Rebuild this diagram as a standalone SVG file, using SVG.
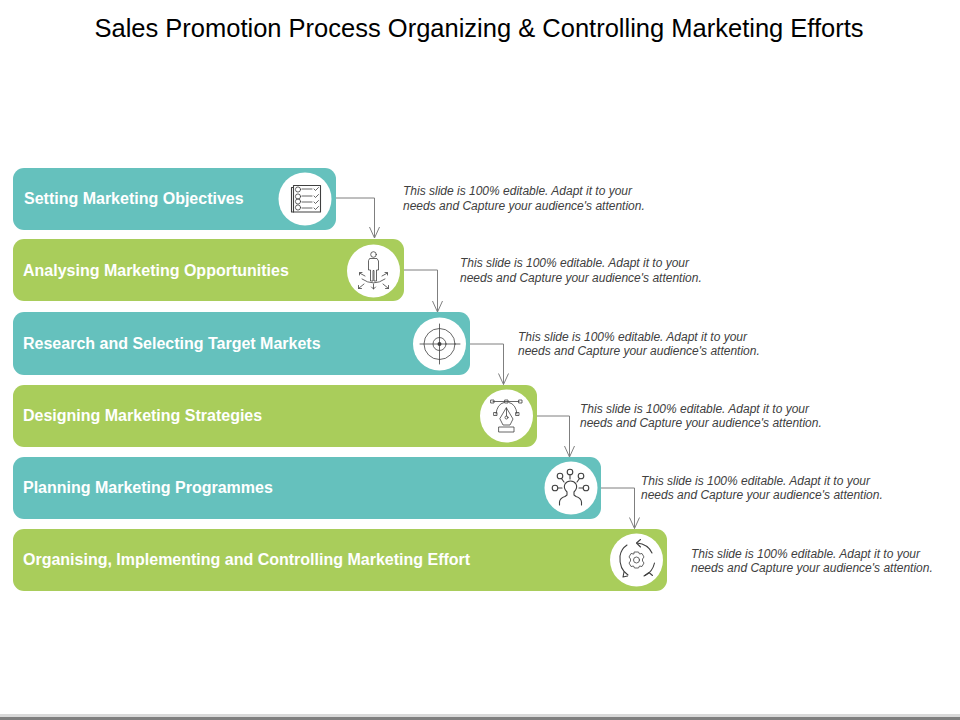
<svg xmlns="http://www.w3.org/2000/svg" width="960" height="720" viewBox="0 0 960 720">
<style>
text{font-family:"Liberation Sans",Arial,sans-serif}
.title{font-size:25.5px;fill:#000}
.lab{font-size:16px;font-weight:bold;fill:#fff}
.note{font-size:12px;font-style:italic;fill:#404040}
.teal{fill:#65c1bd}.green{fill:#a9cd5b}.disc{fill:#fff}
.ic{fill:none;stroke:#404040;stroke-width:1.1;stroke-linecap:round;stroke-linejoin:round}
.ict{fill:none;stroke:#404040;stroke-width:.8;stroke-linecap:round;stroke-linejoin:round}
.con{fill:none;stroke:#7f7f7f;stroke-width:1}
</style>
<defs><marker id="arr" viewBox="0 0 12 12" refX="6" refY="11.5" markerWidth="12" markerHeight="12" markerUnits="userSpaceOnUse" orient="auto-start-reverse"><path d="M1 1L6 11.5L11 1" transform="rotate(0)" fill="none" stroke="#7f7f7f" stroke-width="1"/></marker></defs>
<rect width="960" height="720" fill="#fff"/>
<rect y="714" width="960" height="3" fill="#d9d9d9"/><rect y="717" width="960" height="3" fill="#7f7f7f"/>
<text id="title" class="title" x="479" y="37" text-anchor="middle">Sales Promotion Process Organizing &amp; Controlling Marketing Efforts</text>

<g id="connectors">
<path class="con" d="M336 198H374.500V238"/>
<path class="con" d="M404 270H437.500V312"/>
<path class="con" d="M470 344H503.500V384.500"/>
<path class="con" d="M537 416H569.500V457"/>
<path class="con" d="M601 488H634.500V528.500"/>
<path class="con" d="M369.500 227L374.500 238L379.500 227M432.500 301L437.500 312L442.500 301M498.500 373.500L503.500 384.500L508.500 373.500M564.500 446L569.500 457L574.500 446M629.500 517.500L634.500 528.500L639.500 517.500"/>
</g>

<g id="node1">
<rect class="teal" x="13" y="168" width="323" height="62" rx="11"/>
<circle class="disc" cx="305" cy="199" r="26.500"/>
<text class="lab" x="24" y="204">Setting Marketing Objectives</text>
<g class="ic"><rect x="293.500" y="185.500" width="27" height="26.500"/><path d="M293.500 187.500H291.500V212H293.500"/></g>
<g class="ict"><circle cx="298" cy="189.500" r="2.600"/><circle cx="298" cy="196.500" r="2.600"/><circle cx="298" cy="201.500" r="2.600"/><circle cx="298" cy="207.500" r="2.600"/><path d="M302 189H312M302 196H312M302 202H312M302 208H312M314 189l1.500 1.500 3-3M314 196l1.500 1.500 3-3M314 202l1.500 1.500 3-3M314 208l1.500 1.500 3-3"/></g>
<text class="note"><tspan x="403" y="195">This slide is 100% editable. Adapt it to your</tspan><tspan x="403" y="210">needs and  Capture your audience's attention.</tspan></text>
</g>

<g id="node2">
<rect class="green" x="13" y="239" width="391" height="62" rx="11"/>
<circle class="disc" cx="373.500" cy="271" r="26.500"/>
<text class="lab" x="23" y="276">Analysing Marketing Opportunities</text>
<g class="ict"><circle cx="373.500" cy="254.500" r="2.800"/><path d="M370 258.500H377L378.500 261V270H376.500V281H374V270.500H373V281H370.500V270H368.500V261Z"/><path d="M362 279Q373.500 287 385 279M373.500 284V289M364 284L358.500 288.500M383 284L388.500 288.500M365 276L359.500 273M382 276L387.500 273M371.500 287l2 2 2-2M358.500 285.500V288.500H361.500M388.500 285.500V288.500H385.500M362 272.500H359.500V275M385 272.500H387.500V275"/></g>
<text class="note"><tspan x="460" y="267">This slide is 100% editable. Adapt it to your</tspan><tspan x="460" y="282">needs and  Capture your audience's attention.</tspan></text>
</g>

<g id="node3">
<rect class="teal" x="13" y="312" width="457" height="63" rx="11"/>
<circle class="disc" cx="439.500" cy="344" r="26.500"/>
<text class="lab" x="23" y="349">Research and Selecting Target Markets</text>
<g class="ict"><circle cx="439.500" cy="344" r="15.500"/><circle cx="439.500" cy="344" r="6.500"/><path d="M439.500 324V364M420 344H460"/></g>
<circle cx="439.500" cy="344" r="2" fill="#404040"/>
<text class="note"><tspan x="518" y="341">This slide is 100% editable. Adapt it to your</tspan><tspan x="518" y="355">needs and  Capture your audience's attention.</tspan></text>
</g>

<g id="node4">
<rect class="green" x="13" y="385" width="524" height="62" rx="11"/>
<circle class="disc" cx="506.500" cy="416" r="26.500"/>
<text class="lab" x="23" y="421">Designing Marketing Strategies</text>
<g class="ict"><path d="M493 401.500H519M496 414Q497 404 504 402.500M517 414Q516 404 509 402.500"/><rect x="491" y="400" width="3" height="3"/><rect x="505" y="400" width="3" height="3"/><rect x="519" y="400" width="3" height="3"/><rect x="494" y="412.500" width="3" height="3"/><rect x="516" y="412.500" width="3" height="3"/><path d="M506.500 408L513 419L510 425H503L500 419ZM506.500 408V416"/><circle cx="506.500" cy="417.500" r="1.500"/><rect x="499" y="427" width="15" height="5"/></g>
<text class="note"><tspan x="580" y="413">This slide is 100% editable. Adapt it to your</tspan><tspan x="580" y="427">needs and  Capture your audience's attention.</tspan></text>
</g>

<g id="node5">
<rect class="teal" x="13" y="457" width="588" height="62" rx="11"/>
<circle class="disc" cx="571" cy="488" r="26.500"/>
<text class="lab" x="23" y="493">Planning Marketing Programmes</text>
<g class="ic"><path d="M559.500 505V502Q560 498 565 496.500L567 495V492Q563 488 565 484Q567 481 570.500 481Q574 481 576 484Q578 488 574 492V495L576 496.500Q581 498 581.500 502V505"/><circle cx="570" cy="472" r="2.800"/><path d="M570 475V479"/><circle cx="560" cy="476" r="2.800"/><path d="M561.500 478.500L564 482"/><circle cx="581" cy="476" r="2.800"/><path d="M579.500 478.500L577 482"/><circle cx="555" cy="488" r="2.800"/><path d="M558 488H562"/><circle cx="586" cy="488" r="2.800"/><path d="M583 488H579"/></g>
<text class="note"><tspan x="641" y="485">This slide is 100% editable. Adapt it to your</tspan><tspan x="641" y="499">needs and  Capture your audience's attention.</tspan></text>
</g>

<g id="node6">
<rect class="green" x="13" y="529" width="654" height="62" rx="11"/>
<circle class="disc" cx="636.500" cy="560" r="26.500"/>
<text class="lab" x="23" y="565">Organising, Implementing and Controlling Marketing Effort</text>
<g class="ic"><path d="M637 543Q648 544 652 553M654.500 563Q652.500 572 645 575.500M628 575Q619 569 620 556Q621 549 627 545"/><path d="M640.500 539.500L636.500 543L640.500 547M652.500 575.500L649 572.500L644 576M624 572L623 577L627.500 576"/></g>
<g class="ict"><circle cx="636.500" cy="560" r="3"/><path d="M634.500 552H638.500L639.500 554L642 553.500L644 557L642.500 559V561L644 563L642 566.500L639.500 566L638.500 568H634.500L633.500 566L631 566.500L629 563L630.500 561V559L629 557L631 553.500L633.500 554Z"/></g>
<text class="note"><tspan x="691" y="558">This slide is 100% editable. Adapt it to your</tspan><tspan x="691" y="572">needs and  Capture your audience's attention.</tspan></text>
</g>
</svg>
